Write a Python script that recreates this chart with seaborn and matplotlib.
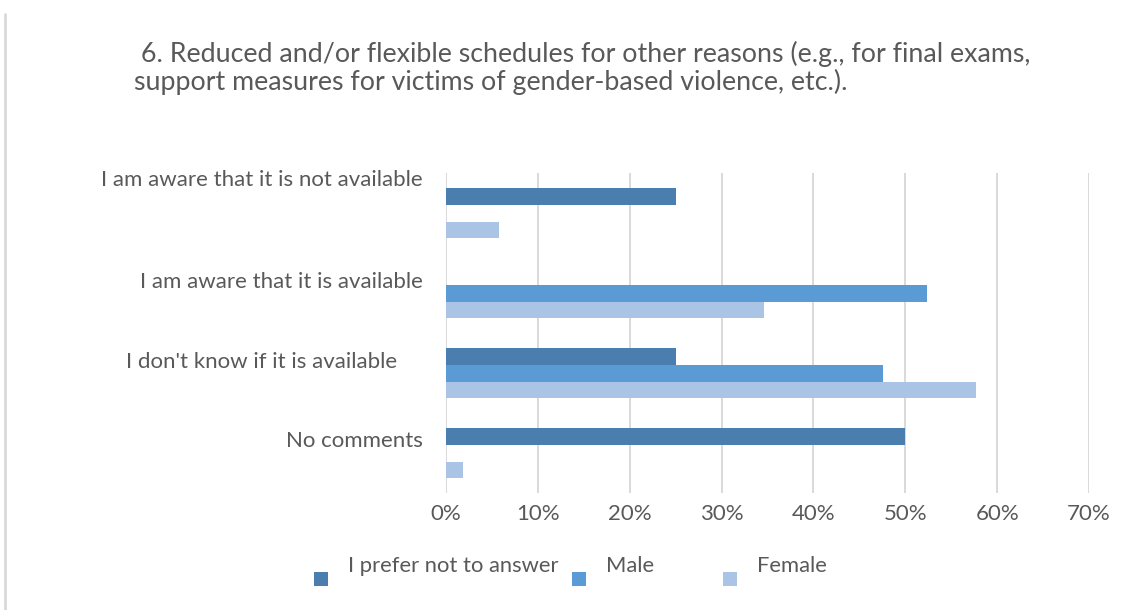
import numpy as np
import pandas as pd
import matplotlib
matplotlib.use("Agg")
import matplotlib.pyplot as plt
from matplotlib.lines import Line2D
from matplotlib.patches import Rectangle
from matplotlib.ticker import PercentFormatter
from matplotlib.transforms import ScaledTranslation
import seaborn as sns

# Dados do gráfico
categorias = [
    "I am aware that it is not available",
    "I am aware that it is available",
    "I don't know if it is available",
    "No comments",
]
series = ["I prefer not to answer", "Male", "Female"]
prefiro_nao = [0.25, 0.0, 0.25, 0.50]
masculino = [0.0, 0.524, 0.476, 0.0]
feminino = [0.058, 0.346, 0.577, 0.019]
titulo = [
    " 6. Reduced and/or flexible schedules for other reasons (e.g., for final exams,",
    "support measures for victims of gender-based violence, etc.).",
]
xticks = [0, 0.1, 0.2, 0.3, 0.4, 0.5, 0.6, 0.7]

cores = ["#4A7EAF", "#5B9BD5", "#AAC4E5"]
cinza_texto = "#595959"

df = pd.DataFrame({
    "categoria": categorias * 3,
    "serie": [s for s in series for _ in categorias],
    "valor": prefiro_nao + masculino + feminino,
})

sns.set_style("white")
plt.rcParams["font.family"] = ["Lato", "DejaVu Sans"]

W, H = 1128, 610
fig = plt.figure(figsize=(W / 100, H / 100), dpi=100)
ax = fig.add_axes([446 / W, (H - 493.3) / H, (1089 - 446) / W, 320 / H])

sns.barplot(data=df, x="valor", y="categoria", hue="serie", order=categorias,
            hue_order=series, palette=cores, orient="h", width=0.625, gap=0,
            errorbar=None, linewidth=0, saturation=1, legend=False, ax=ax)

ax.set_xlim(0, 0.7)
ax.set_ylim(3.5, -0.5)
ax.set_xticks(xticks)
ax.xaxis.set_major_formatter(PercentFormatter(1.0, decimals=0))
ax.grid(axis="x", color="#D9D9D9", linewidth=1.4)
ax.grid(axis="y", visible=False)
ax.set_axisbelow(True)
for s in ax.spines.values():
    s.set_visible(False)
ax.set_xlabel("")
ax.set_ylabel("")
ax.tick_params(axis="x", length=0, labelsize=16, labelcolor=cinza_texto, pad=8)
ax.tick_params(axis="y", length=0, labelsize=16, labelcolor=cinza_texto, pad=16.5)

# rótulos do eixo y deslocados como no original (em pixels)
desloc = [(0, 35), (0, 13), (-26, 13), (0, 14)]
for lab, (dx, dy) in zip(ax.get_yticklabels(), desloc):
    lab.set_transform(lab.get_transform() + ScaledTranslation(dx / 100, dy / 100, fig.dpi_scale_trans))

# título
fig.text(134 / W, 1 - 62 / H, titulo[0], fontsize=19.3, color=cinza_texto, va="baseline", ha="left")
fig.text(134 / W, 1 - 90 / H, titulo[1], fontsize=19.3, color=cinza_texto, va="baseline", ha="left")

# legenda manual
leg_x = [321, 579, 730]
for nome, cor, xm in zip(series, cores, leg_x):
    fig.add_artist(Rectangle(((xm - 7) / W, 1 - 586 / H), 14 / W, 14 / H,
                             transform=fig.transFigure, color=cor, lw=0))
    fig.text((xm + 27) / W, 1 - 571.7 / H, nome, fontsize=15.8, color=cinza_texto,
             va="baseline", ha="left")

# borda esquerda
fig.add_artist(Line2D([4.5 / W, 4.5 / W], [0, 1 - 14 / H], transform=fig.transFigure,
                      color="#D9D9D9", linewidth=2))

fig.savefig("out.png", dpi=100)
